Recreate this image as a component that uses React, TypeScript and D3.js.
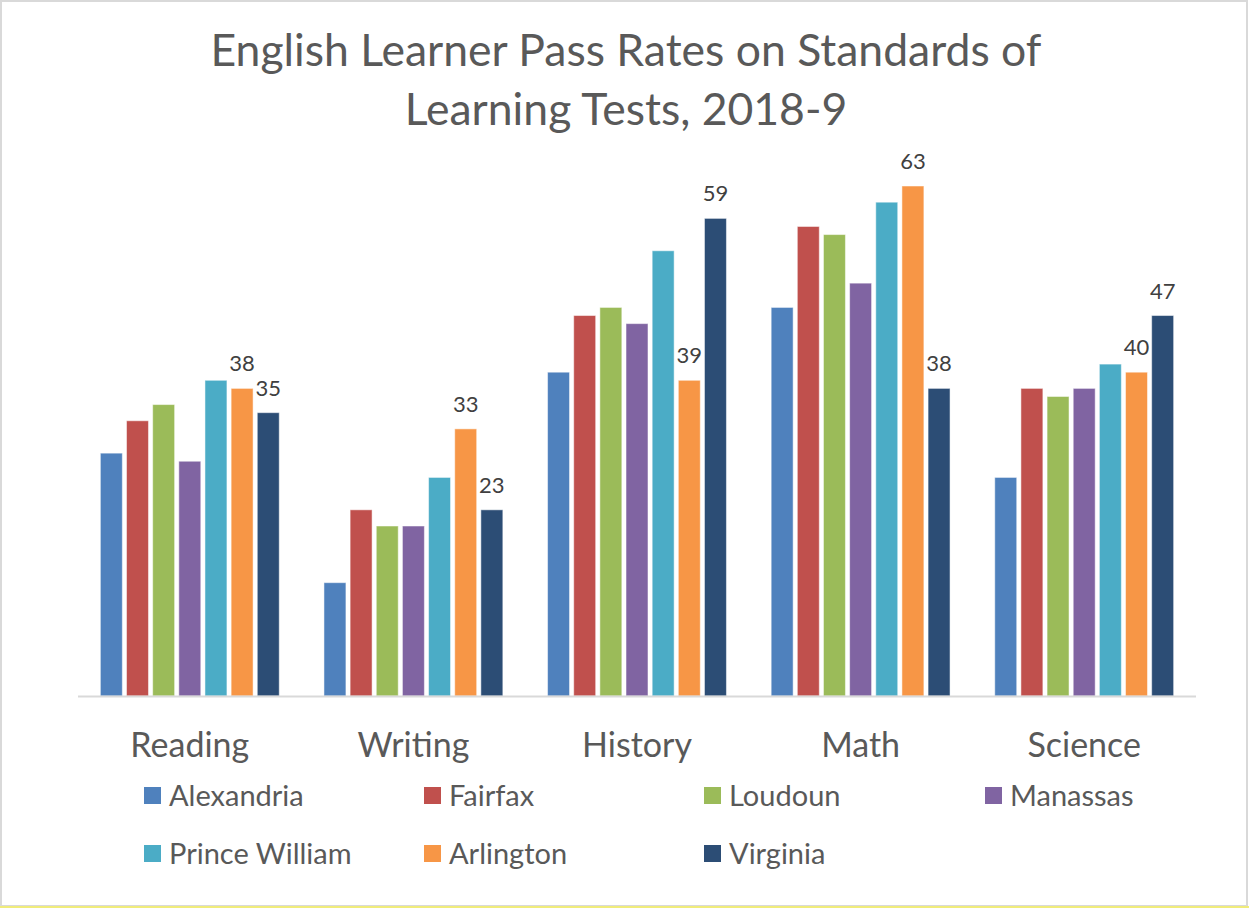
import React from 'react';
import * as d3 from 'd3';

const categories = ['Reading', 'Writing', 'History', 'Math', 'Science'];
const seriesNames = ['Alexandria', 'Fairfax', 'Loudoun', 'Manassas', 'Prince William', 'Arlington', 'Virginia'];
const colors = ['#4f81bd', '#c0504d', '#9bbb59', '#8064a2', '#4bacc6', '#f79646', '#2c4d75'];

const alexandria = [30, 14, 40, 48, 27];
const fairfax = [34, 23, 47, 58, 38];
const loudoun = [36, 21, 48, 57, 37];
const manassas = [29, 21, 46, 51, 38];
const princeWilliam = [39, 27, 55, 61, 41];
const arlington = [38, 33, 39, 63, 40];
const virginia = [35, 23, 59, 38, 47];

const seriesValues = [alexandria, fairfax, loudoun, manassas, princeWilliam, arlington, virginia];
// only these two series carry data labels
const labelled = ['Arlington', 'Virginia'];

const W = 1249, H = 909;
const font = 'Lato, "Open Sans", sans-serif';

class Bar extends React.Component<any> {
  render() {
    return (
      <rect x={this.props.x} y={this.props.y} width={this.props.width} height={this.props.height}
        fill={this.props.fill} stroke="#ffffff" strokeOpacity={0.5} strokeWidth={1} />
    );
  }
}

export default function App() {
  const margin = { left: 78, right: 53, top: 0, bottom: 0 };
  const baseY = 696;

  const x0 = d3.scaleBand().domain(categories).range([margin.left, W - margin.right]).paddingInner(0.2).paddingOuter(0.1);
  const x1 = d3.scaleBand().domain(seriesNames).range([0, x0.bandwidth()]).paddingInner(0.16);
  const y = d3.scaleLinear().domain([0, 63]).range([baseY, 186]);

  let bars: any[] = [];
  let labels: any[] = [];
  seriesNames.forEach((name, si) => {
    seriesValues[si].forEach((v, ci) => {
      const bx = (x0(categories[ci]) as number) + (x1(name) as number);
      bars.push(<Bar key={name + ci} x={bx} y={y(v)} width={x1.bandwidth()} height={baseY - y(v)} fill={colors[si]} />);
      if (labelled.indexOf(name) >= 0) {
        labels.push(
          <text key={'l' + name + ci} x={bx + x1.bandwidth() / 2} y={y(v) - 17} textAnchor="middle"
            fontSize={22} fill="#404040" fontFamily={font}>{v}</text>
        );
      }
    });
  });

  const legendCols = [144, 424, 704, 985];
  const legendRows = [796, 854];

  return (
    <div style={{ position: 'absolute', left: 0, top: 0 }}>
      <svg width={W} height={H} style={{ display: 'block' }}>
        <rect x={0} y={0} width={W} height={H} fill="#ffffff" />
        <rect x={1} y={1} width={W - 3} height={H - 4} fill="none" stroke="#d9d9d9" strokeWidth={2} />
        <line x1={0} x2={W} y1={907} y2={907} stroke="#f0ec7a" strokeWidth={2} />

        <text x={626} y={66} textAnchor="middle" fontSize={44.5} fill="#595959" fontFamily={font}>
          English Learner Pass Rates on Standards of
        </text>
        <text x={626} y={125} textAnchor="middle" fontSize={44.5} fill="#595959" fontFamily={font}>
          Learning Tests, 2018-9
        </text>

        <g>{bars}</g>
        <line x1={margin.left} x2={W - margin.right} y1={baseY + 0.5} y2={baseY + 0.5} stroke="#d9d9d9" strokeWidth={2} />
        <g>{labels}</g>

        {categories.map((c) => (
          <text key={c} x={(x0(c) as number) + x0.bandwidth() / 2} y={757} textAnchor="middle"
            fontSize={34} fill="#595959" fontFamily={font}>{c}</text>
        ))}

        {seriesNames.map((name, i) => {
          const lx = legendCols[i % 4];
          const ly = legendRows[Math.floor(i / 4)];
          return (
            <g key={name}>
              <rect x={lx} y={ly - 9} width={17} height={17} fill={colors[i]} />
              <text x={lx + 25} y={ly + 10} fontSize={29} fill="#595959" fontFamily={font}>{name}</text>
            </g>
          );
        })}
      </svg>
    </div>
  );
}
